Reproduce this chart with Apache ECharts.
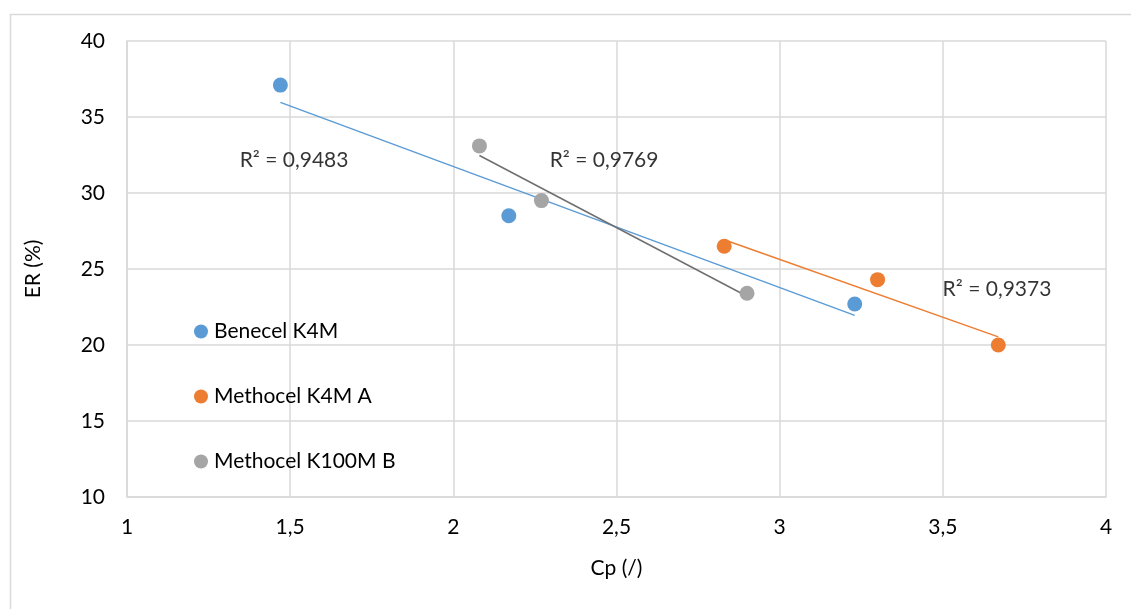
<!DOCTYPE html>
<html>
<head>
<meta charset="utf-8">
<style>
  html, body { margin: 0; padding: 0; background: #ffffff; }
  #chart { width: 1131px; height: 609px; }
</style>
<script src="https://cdn.jsdelivr.net/npm/echarts@6/dist/echarts.min.js"></script>
</head>
<body>
<div id="chart"></div>
<script>
// Series names
const seriesNames = ['Benecel K4M', 'Methocel K4M A', 'Methocel K100M B'];
const seriesColors = ['#5B9BD5', '#ED7D31', '#A5A5A5'];
const trendColors = ['#5B9BD5', '#ED7D31', '#6F6F6F'];

// Cp values (x) and ER values (y) per polymer
const cpBenecel = [1.47, 2.17, 3.23];
const erBenecel = [37.1, 28.5, 22.7];
const cpK4M = [2.83, 3.30, 3.67];
const erK4M = [26.5, 24.3, 20.0];
const cpK100M = [2.08, 2.27, 2.90];
const erK100M = [33.1, 29.5, 23.4];

// Coefficients of determination shown next to each trend line
const r2Texts = ['0,9483', '0,9373', '0,9769'];
// Where each R² caption sits, in data units [Cp, ER]
const r2Anchors = [[1.512, 32.17], [3.666, 23.68], [2.462, 32.17]];

// Axis ticks
const xTicks = [1, 1.5, 2, 2.5, 3, 3.5, 4];
const yTicks = [10, 15, 20, 25, 30, 35, 40];

const groups = [
  [cpBenecel, erBenecel],
  [cpK4M, erK4M],
  [cpK100M, erK100M]
];

// Least-squares line over the range of the group's x values
function trend(xs, ys) {
  const n = xs.length;
  const mx = xs.reduce((a, b) => a + b, 0) / n;
  const my = ys.reduce((a, b) => a + b, 0) / n;
  let sxy = 0, sxx = 0;
  for (let i = 0; i < n; i++) {
    sxy += (xs[i] - mx) * (ys[i] - my);
    sxx += (xs[i] - mx) * (xs[i] - mx);
  }
  const k = sxy / sxx;
  const b = my - k * mx;
  const x0 = Math.min(...xs), x1 = Math.max(...xs);
  return [[x0, k * x0 + b], [x1, k * x1 + b]];
}

const fmt = v => String(v).replace('.', ',');
const font = 'Lato, "Open Sans", sans-serif';
const fs = 21;
const ink = '#000000';

const series = [];
groups.forEach((g, i) => {
  series.push({
    name: seriesNames[i],
    type: 'scatter',
    symbol: 'circle',
    symbolSize: 15,
    itemStyle: { color: seriesColors[i], opacity: 1 },
    data: g[0].map((x, j) => [x, g[1][j]]),
    z: 3
  });
  series.push({
    type: 'line',
    data: trend(g[0], g[1]),
    symbol: 'none',
    lineStyle: { color: trendColors[i], width: 1.5 },
    silent: true,
    z: 2
  });
  series.push({
    type: 'scatter',
    symbolSize: 1,
    itemStyle: { color: 'rgba(0,0,0,0)' },
    silent: true,
    data: [r2Anchors[i]],
    label: {
      show: true,
      position: 'inside',
      formatter: 'R² = ' + r2Texts[i],
      color: ink,
      fontSize: fs,
      fontFamily: font
    },
    z: 4
  });
});

const chart = echarts.init(document.getElementById('chart'));
chart.setOption({
  animation: false,
  backgroundColor: '#ffffff',
  graphic: [{
    type: 'rect',
    left: 8, top: 12,
    shape: { width: 1140, height: 620 },
    style: { fill: 'none', stroke: '#d9d9d9', lineWidth: 1.5 },
    silent: true
  }],
  grid: { left: 127, right: 25, top: 41, bottom: 112 },
  legend: {
    data: seriesNames,
    orient: 'vertical',
    left: 189,
    top: 314,
    itemGap: 40,
    itemWidth: 14,
    itemHeight: 14,
    icon: 'circle',
    textStyle: { fontSize: fs, color: ink, fontFamily: font, lineHeight: 25, padding: [0, 0, 0, 1] }
  },
  xAxis: {
    type: 'value',
    min: xTicks[0], max: xTicks[xTicks.length - 1], interval: 0.5,
    name: 'Cp (/)',
    nameLocation: 'middle',
    nameGap: 61,
    nameTextStyle: { fontSize: fs, color: ink, fontFamily: font },
    axisLine: { show: true, lineStyle: { color: '#d9d9d9', width: 1.5 } },
    axisTick: { show: false },
    axisLabel: { fontSize: fs, color: ink, fontFamily: font, margin: 20, formatter: fmt },
    splitLine: { show: true, lineStyle: { color: '#d9d9d9', width: 1.5 } }
  },
  yAxis: {
    type: 'value',
    min: yTicks[0], max: yTicks[yTicks.length - 1], interval: 5,
    name: 'ER (%)',
    nameLocation: 'middle',
    nameGap: 83,
    nameRotate: 90,
    nameTextStyle: { fontSize: fs, color: ink, fontFamily: font },
    axisLine: { show: true, lineStyle: { color: '#d9d9d9', width: 1.5 } },
    axisTick: { show: false },
    axisLabel: { fontSize: fs, color: ink, fontFamily: font, margin: 22, formatter: fmt },
    splitLine: { show: true, lineStyle: { color: '#d9d9d9', width: 1.5 } }
  },
  series: series
});
</script>
</body>
</html>
